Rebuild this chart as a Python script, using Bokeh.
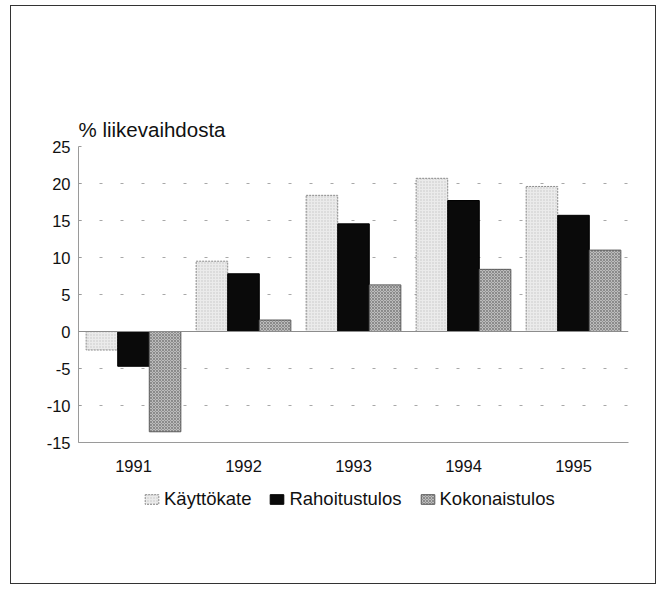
from bokeh.plotting import figure
from bokeh.layouts import column
from bokeh.models import (FactorRange, ColumnDataSource, Legend, LegendItem,
                          Span, FixedTicker, CustomJSTickFormatter)
from bokeh.transform import dodge
from bokeh.embed import file_html
from bokeh.resources import INLINE

years = ["1991", "1992", "1993", "1994", "1995"]
kayttokate = [-2.5, 9.5, 18.4, 20.7, 19.6]
rahoitustulos = [-4.7, 7.8, 14.55, 17.7, 15.7]
kokonaistulos = [-13.55, 1.55, 6.3, 8.4, 11.0]
series_names = ["Käyttökate", "Rahoitustulos", "Kokonaistulos"]
y_ticks = [-15, -10, -5, 0, 5, 10, 15, 20, 25]
title_text = "% liikevaihdosta"

FONT = "Liberation Sans"
src = ColumnDataSource(dict(year=years, k=kayttokate, r=rahoitustulos, ko=kokonaistulos))

STYLES = [
    dict(fill_color="#ebebeb", line_color="#8a8a8a", line_dash="2 1", line_width=1,
         hatch_pattern="dot", hatch_color="#c4c4c4", hatch_scale=3, hatch_weight=0.6),
    dict(fill_color="#0a0a0a", line_color="#000000", line_width=1),
    dict(fill_color="#bcbcbc", line_color="#5a5a5a", line_width=1,
         hatch_pattern="diagonal_cross", hatch_color="#6a6a6a", hatch_scale=3,
         hatch_weight=0.6),
]
bw = 0.287
cols = ["k", "r", "ko"]
offsets = [-bw, 0, bw]

p = figure(x_range=FactorRange(factors=years, range_padding=0), y_range=(-15, 25),
           width=644, height=475, frame_width=550, frame_height=296,
           min_border_left=67, min_border_right=27, min_border_top=140, min_border_bottom=39,
           output_backend="svg", toolbar_location=None, background_fill_color="white",
           border_fill_color="white", outline_line_color=None)

p.title.text = title_text
p.title.align = "left"
p.title.text_font = FONT
p.title.text_font_size = "20.5px"
p.title.text_font_style = "normal"
p.title.text_color = "#111111"
p.title.standoff = 12
p.title.offset = 0

for c, off, st in zip(cols, offsets, STYLES):
    p.vbar(x=dodge("year", off, range=p.x_range), top=c, bottom=0, width=bw, source=src, **st)

p.xgrid.grid_line_color = None
p.ygrid.ticker = FixedTicker(ticks=y_ticks)
p.ygrid.grid_line_color = "#a8a8a8"
p.ygrid.grid_line_dash = "3 18"
p.ygrid.grid_line_width = 1

zero = Span(location=0, dimension="width", line_color="#8c8c8c", line_width=1)
p.add_layout(zero)

p.yaxis.ticker = FixedTicker(ticks=y_ticks)
p.yaxis.formatter = CustomJSTickFormatter(code="return tick.toString();")
for ax in (p.xaxis[0], p.yaxis[0]):
    ax.axis_line_color = "#9a9a9a"
    ax.axis_line_width = 1
    ax.minor_tick_line_color = None
    ax.major_label_text_font = FONT
    ax.major_label_text_font_size = "16.5px"
    ax.major_label_text_color = "#111111"
p.yaxis.major_tick_in = 3
p.yaxis.major_tick_out = 0
p.yaxis.major_tick_line_color = "#9a9a9a"
p.yaxis.major_label_standoff = 8
p.xaxis.major_tick_line_color = None
p.xaxis.major_label_standoff = 11

# legend strip: a separate figure so the legend is not clipped by the chart frame.
# Its bar renderers use the same data, but lie outside its (invisible) y range.
lg = figure(width=644, height=102, x_range=FactorRange(factors=years, range_padding=0),
            y_range=(100, 101), min_border=0, output_backend="svg", toolbar_location=None,
            background_fill_color="white", border_fill_color="white",
            outline_line_color=None)
lg.axis.visible = False
lg.grid.visible = False
leg_renderers = [lg.vbar(x=dodge("year", off, range=lg.x_range), top=c, bottom=0, width=bw,
                         source=src, **st)
                 for c, off, st in zip(cols, offsets, STYLES)]
legend = Legend(items=[LegendItem(label=n, renderers=[r])
                       for n, r in zip(series_names, leg_renderers)],
                orientation="horizontal", location=(65, 73), padding=0, margin=0,
                spacing=17, glyph_width=17, glyph_height=12, label_standoff=4,
                label_text_font=FONT, label_text_font_size="18.5px",
                label_text_color="#111111", border_line_color=None,
                background_fill_alpha=0)
lg.add_layout(legend, "center")

layout = column(p, lg, spacing=0,
                styles={"border": "1px solid #333333", "margin-left": "10px",
                        "margin-top": "5px"})

open("out.html", "w").write(file_html(layout, INLINE))
